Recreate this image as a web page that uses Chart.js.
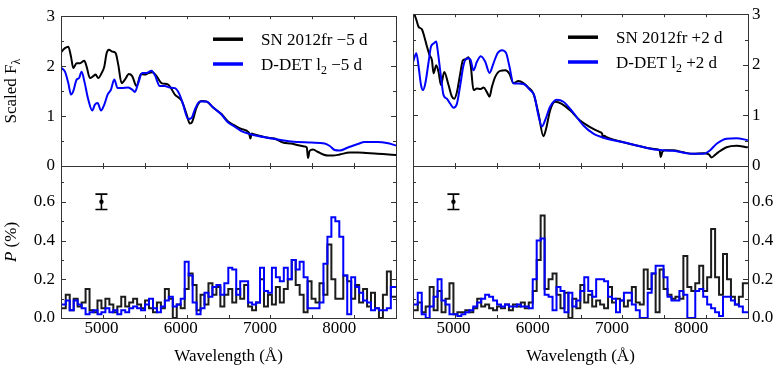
<!DOCTYPE html>
<html><head><meta charset="utf-8">
<script src="https://cdn.jsdelivr.net/npm/chart.js@4"></script>
<style>
html,body{margin:0;padding:0;background:#fff;}
#wrap{position:relative;width:781px;height:372px;overflow:hidden;background:#fff;}
#wrap canvas{position:absolute;left:0;top:0;}
</style></head>
<body><div id="wrap">
<canvas id="cTL" width="781" height="372"></canvas>
<canvas id="cBL" width="781" height="372"></canvas>
<canvas id="cTR" width="781" height="372"></canvas>
<canvas id="cBR" width="781" height="372"></canvas>
</div>
<script>
// ---------- DATA ----------
const seriesLabels = ['SN 2012fr \u22125 d', 'D-DET l\u2082 \u22125 d', 'SN 2012fr +2 d', 'D-DET l\u2082 +2 d'];

// Flux, -5 d (wavelength in Å, scaled flux)
const waveSNm5 = [4490,4498,4540,4582,4616,4645,4687,4729,4784,4813,4855,4897,4926,4960,5002,5036,5065,5095,5137,5179,5212,5254,5296,5346,5388,5443,5498,5548,5590,5640,5695,5758,5842,5926,6010,6073,6115,6144,6199,6262,6325,6409,6514,6598,6660,6765,6860,6879,6895,6933,7081,7185,7290,7395,7500,7563,7590,7605,7625,7668,7731,7815,7857,7920,8004,8130,8234,8340,8444,8550,8717];
const fluxSNm5 = [2.27,2.29,2.36,2.39,2.19,1.96,2.06,2.06,2.11,1.99,1.76,1.80,1.83,1.76,1.86,1.99,2.26,2.33,2.29,2.26,2.03,1.66,1.73,1.84,1.80,1.60,1.84,1.83,1.86,1.88,1.80,1.66,1.63,1.43,1.31,1.04,0.85,0.88,1.17,1.30,1.29,1.17,1.04,0.89,0.83,0.74,0.67,0.55,0.65,0.63,0.57,0.55,0.47,0.45,0.41,0.39,0.37,0.16,0.30,0.33,0.28,0.22,0.21,0.21,0.23,0.27,0.27,0.26,0.25,0.24,0.22];
const waveDDm5 = [4490,4498,4540,4582,4616,4645,4687,4717,4750,4784,4834,4884,4918,4952,4994,5036,5078,5120,5162,5204,5254,5338,5388,5422,5464,5514,5569,5632,5674,5737,5800,5863,5926,5977,6031,6094,6136,6178,6241,6325,6409,6514,6598,6660,6765,6870,6975,7185,7395,7648,7815,7880,7941,8004,8109,8234,8319,8486,8600,8717];
const fluxDDm5 = [1.97,1.96,1.89,1.66,1.43,1.50,1.73,1.76,1.89,1.70,1.33,1.11,1.23,1.26,1.11,1.23,1.43,1.53,1.73,1.56,1.56,1.57,1.53,1.48,1.66,1.86,1.86,1.91,1.82,1.60,1.60,1.57,1.56,1.46,1.23,0.94,0.96,1.13,1.29,1.29,1.17,1.03,0.87,0.81,0.70,0.64,0.60,0.54,0.49,0.47,0.45,0.40,0.32,0.31,0.37,0.44,0.48,0.48,0.46,0.41];

// Flux, +2 d
const waveSNp2 = [4490,4498,4532,4561,4603,4632,4666,4699,4729,4749,4783,4812,4843,4884,4938,4981,5010,5044,5086,5120,5161,5190,5220,5253,5296,5338,5380,5422,5455,5485,5527,5590,5653,5707,5757,5820,5883,5946,6009,6072,6135,6169,6219,6282,6366,6471,6597,6723,6849,6875,6885,6900,6933,7143,7353,7563,7600,7614,7635,7668,7772,7898,8024,8150,8220,8256,8300,8339,8444,8570,8713];
const fluxSNp2 = [3.10,3.05,2.89,2.75,2.70,2.56,2.36,2.19,2.09,1.83,1.99,1.86,1.60,1.86,1.60,1.37,1.33,1.46,1.83,2.09,2.11,2.15,1.96,1.50,1.53,1.52,1.55,1.46,1.37,1.56,1.76,1.88,1.89,1.82,1.64,1.68,1.64,1.55,1.43,1.04,0.59,0.74,1.10,1.27,1.23,1.10,0.90,0.77,0.67,0.64,0.56,0.60,0.57,0.47,0.39,0.33,0.31,0.18,0.28,0.31,0.31,0.27,0.24,0.25,0.23,0.17,0.22,0.27,0.37,0.40,0.37];
const waveDDp2 = [4490,4498,4532,4561,4591,4616,4645,4687,4717,4749,4783,4800,4843,4875,4918,4960,5001,5044,5086,5127,5170,5212,5253,5296,5346,5401,5455,5505,5556,5611,5665,5707,5757,5820,5883,5967,6018,6072,6115,6160,6219,6302,6387,6513,6639,6765,6933,7143,7353,7563,7772,8024,8150,8230,8319,8444,8570,8713];
const fluxDDp2 = [2.05,2.09,2.23,1.96,1.60,1.50,1.63,2.06,2.36,2.42,2.46,2.30,1.76,1.40,1.33,1.23,1.15,1.23,1.60,1.99,2.13,2.11,1.89,2.06,2.17,2.06,1.84,2.03,2.23,2.29,2.23,1.96,1.63,1.63,1.62,1.50,1.40,1.00,0.78,0.92,1.17,1.31,1.27,1.05,0.80,0.64,0.54,0.47,0.39,0.32,0.30,0.24,0.24,0.30,0.44,0.54,0.55,0.51];

// Polarization (%), 50 Å bins starting at 4450 Å
const polBinStart = 4450, polBinWidth = 50;
const polSNm5 = [0.05,0.05,0.12,0.04,0.10,0.06,0.08,0.15,0.04,0.03,0.09,0.05,0.10,0.07,0.03,0.06,0.11,0.06,0.08,0.10,0.07,0.05,0.09,0.05,0.03,0.08,0.05,0.15,0.10,0.00,0.07,0.05,0.15,0.23,0.17,0.04,0.12,0.07,0.18,0.12,0.16,0.06,0.12,0.15,0.08,0.15,0.10,0.17,0.06,0.04,0.08,0.20,0.06,0.12,0.07,0.16,0.08,0.15,0.20,0.30,0.17,0.12,0.03,0.19,0.10,0.08,0.18,0.12,0.38,0.20,0.10,0.10,0.22,0.19,0.10,0.17,0.08,0.15,0.06,0.13,0.05,0.00,0.12,0.24,0.11,0.11];
const polDDm5 = [0.07,0.07,0.09,0.04,0.09,0.07,0.05,0.02,0.03,0.04,0.02,0.03,0.05,0.03,0.04,0.02,0.04,0.03,0.05,0.06,0.05,0.04,0.07,0.10,0.05,0.03,0.06,0.09,0.11,0.06,0.07,0.10,0.29,0.22,0.08,0.02,0.05,0.13,0.11,0.16,0.17,0.12,0.18,0.26,0.25,0.12,0.19,0.19,0.08,0.07,0.08,0.26,0.14,0.13,0.26,0.21,0.19,0.26,0.20,0.30,0.25,0.29,0.21,0.05,0.05,0.05,0.08,0.28,0.42,0.52,0.50,0.42,0.22,0.02,0.21,0.16,0.13,0.09,0.08,0.04,0.05,0.04,0.04,0.05,0.16,0.16];
const polSNp2 = [0.04,0.04,0.08,0.03,0.06,0.16,0.04,0.14,0.03,0.10,0.18,0.02,0.03,0.03,0.04,0.03,0.05,0.10,0.06,0.07,0.05,0.04,0.06,0.05,0.07,0.04,0.07,0.06,0.08,0.05,0.08,0.14,0.30,0.53,0.15,0.20,0.23,0.12,0.05,0.13,0.00,0.10,0.05,0.17,0.08,0.12,0.06,0.09,0.07,0.05,0.16,0.08,0.10,0.09,0.06,0.09,0.16,0.08,0.07,0.25,0.15,0.23,0.03,0.25,0.15,0.12,0.10,0.11,0.10,0.32,0.16,0.14,0.18,0.27,0.14,0.21,0.46,0.21,0.12,0.33,0.20,0.11,0.07,0.11,0.18,0.18];
const polDDp2 = [0.07,0.07,0.13,0.02,0.00,0.06,0.11,0.20,0.09,0.07,0.02,0.02,0.01,0.02,0.03,0.04,0.06,0.08,0.10,0.12,0.11,0.09,0.07,0.06,0.07,0.06,0.06,0.07,0.06,0.06,0.05,0.20,0.40,0.41,0.12,0.11,0.04,0.16,0.14,0.03,0.13,0.06,0.09,0.14,0.21,0.14,0.11,0.20,0.20,0.19,0.11,0.10,0.03,0.09,0.13,0.13,0.07,0.04,0.00,0.00,0.13,0.23,0.27,0.27,0.21,0.11,0.09,0.09,0.14,0.12,0.00,0.00,0.14,0.15,0.11,0.07,0.05,0.03,0.01,0.11,0.11,0.09,0.07,0.06,0.03,0.03];

// Representative error bar (wavelength, P, half-length)
const errX = [5000], errY = [0.6], errHalf = [0.04];

// Axis ranges and tick labels
const xRange = [4490, 8715];
const fluxRange = [0, 3];
const polRange = [0, 0.785];
const xTickLabels = ['5000', '6000', '7000', '8000'];
const fluxTickLabels = ['0', '1', '2', '3'];
const polTickLabels = ['0.0', '0.2', '0.4', '0.6'];

// ---------- HELPERS ----------
const FONT = "'Liberation Serif', 'Times New Roman', serif";
const BLACK = '#000000', BLUE = '#0000ff', PBLACK = '#1c1c1c';

function pts(xs, ys) { return xs.map((x, i) => ({x: x, y: ys[i]})); }
function polPts(vals) { return vals.map((v, i) => ({x: polBinStart + polBinWidth * (i + 0.5), y: v})); }

const decor = {
  id: 'decor',
  afterDatasetsDraw(chart, args, o) {
    const ctx = chart.ctx, a = chart.chartArea, xs = chart.scales.x, ys = chart.scales.y;
    ctx.save();
    // error bar
    if (o.err) {
      const ex = xs.getPixelForValue(errX[0]);
      const y1 = ys.getPixelForValue(errY[0] - errHalf[0]);
      const y2 = ys.getPixelForValue(errY[0] + errHalf[0]);
      const yc = ys.getPixelForValue(errY[0]);
      ctx.strokeStyle = '#000'; ctx.lineWidth = 1.6;
      ctx.beginPath();
      ctx.moveTo(ex, y1); ctx.lineTo(ex, y2);
      ctx.moveTo(ex - 6, y1); ctx.lineTo(ex + 6, y1);
      ctx.moveTo(ex - 6, y2); ctx.lineTo(ex + 6, y2);
      ctx.stroke();
      ctx.fillStyle = '#000';
      ctx.beginPath(); ctx.arc(ex, yc, 2.2, 0, Math.PI * 2); ctx.fill();
    }
    // legend
    if (o.legend) {
      chart.data.datasets.forEach((ds, i) => {
        const ly = a.top + 23 + i * 24.8;
        const lx = a.right - o.legendOffset;
        ctx.strokeStyle = ds.borderColor; ctx.lineWidth = 3.5;
        ctx.beginPath(); ctx.moveTo(lx, ly); ctx.lineTo(lx + 30, ly); ctx.stroke();
        drawRich(ctx, ds.label, lx + 48, ly + 6, 17);
      });
    }
    // x tick labels (bottom panels)
    if (o.xLabels) {
      ctx.fillStyle = '#000'; ctx.font = '17px ' + FONT;
      ctx.textAlign = 'center'; ctx.textBaseline = 'middle';
      xTickLabels.forEach(l => { ctx.fillText(l, xs.getPixelForValue(Number(l)), a.bottom + 11); });
    }
    // inward ticks
    ctx.strokeStyle = '#333'; ctx.lineWidth = 1;
    ctx.beginPath();
    xs.ticks.forEach(t => {
      const px = Math.round(xs.getPixelForValue(t.value)) + 0.5;
      const len = (t.value % 1000 === 0) ? 5 : 3;
      ctx.moveTo(px, a.top); ctx.lineTo(px, a.top + len);
      ctx.moveTo(px, a.bottom); ctx.lineTo(px, a.bottom - len);
    });
    ys.ticks.forEach(t => {
      const py = Math.round(ys.getPixelForValue(t.value)) + 0.5;
      const len = t.label ? 5 : 3;
      ctx.moveTo(a.left, py); ctx.lineTo(a.left + len, py);
      ctx.moveTo(a.right, py); ctx.lineTo(a.right - len, py);
    });
    ctx.stroke();
    // frame
    ctx.strokeRect(Math.round(a.left) + 0.5, Math.round(a.top) + 0.5, Math.round(a.right - a.left), Math.round(a.bottom - a.top));
    // y title
    if (o.yTitle) {
      ctx.translate(o.yTitle.x, (a.top + a.bottom) / 2);
      ctx.rotate(-Math.PI / 2);
      const parts = o.yTitle.parts;
      let w = 0;
      parts.forEach(p => { ctx.font = p.font; w += ctx.measureText(p.text).width; });
      let cx = -w / 2;
      ctx.fillStyle = '#000'; ctx.textBaseline = 'alphabetic'; ctx.textAlign = 'left';
      parts.forEach(p => { ctx.font = p.font; ctx.fillText(p.text, cx, p.dy || 0); cx += ctx.measureText(p.text).width; });
    }
    ctx.restore();
  }
};

function drawRich(ctx, text, x, y, size) {
  ctx.fillStyle = '#000'; ctx.textBaseline = 'alphabetic'; ctx.textAlign = 'left';
  let cx = x;
  for (const ch of text) {
    if (ch === '\u2082') {
      ctx.font = (size * 0.7) + 'px ' + FONT;
      ctx.fillText('2', cx, y + 4);
      cx += ctx.measureText('2').width;
    } else {
      ctx.font = size + 'px ' + FONT;
      ctx.fillText(ch, cx, y);
      cx += ctx.measureText(ch).width;
    }
  }
}

function makePanel(id, cfg) {
  const isTop = cfg.row === 'top';
  const isLeft = cfg.side === 'left';
  const pad = {
    left: isLeft ? 0 : 413,
    right: isLeft ? 385 : 0,
    top: isTop ? 14 : 166,
    bottom: isTop ? 206 : 0
  };
  const yLabels = isTop ? fluxTickLabels : polTickLabels;
  new Chart(document.getElementById(id), {
    type: 'line',
    data: { datasets: cfg.datasets },
    options: {
      responsive: false, animation: false, events: [],
      layout: { padding: pad },
      plugins: { legend: { display: false }, tooltip: { enabled: false }, decor: cfg.decor },
      elements: { point: { radius: 0 } },
      scales: {
        x: {
          type: 'linear', min: xRange[0], max: xRange[1],
          grid: { display: false, drawTicks: false }, border: { display: false },
          ticks: { display: false, stepSize: 500, includeBounds: false, autoSkip: false, maxRotation: 0 },
          title: { display: !isTop, text: 'Wavelength (\u00c5)', color: '#000', font: { family: FONT, size: 17 }, padding: { top: 0, bottom: 5 } },
          afterFit: s => { s.height = isTop ? 0 : 54; }
        },
        y: {
          type: 'linear', position: isLeft ? 'left' : 'right',
          min: isTop ? fluxRange[0] : polRange[0], max: isTop ? fluxRange[1] : polRange[1],
          grid: { display: false, drawTicks: false }, border: { display: false },
          ticks: {
            stepSize: isTop ? 0.5 : 0.1, includeBounds: false, autoSkip: false, padding: isLeft ? 6 : 4,
            color: '#000', font: { family: FONT, size: 17 },
            callback: v => {
              const s = isTop ? String(Math.round(v * 2) / 2) : (Math.round(v * 10) / 10).toFixed(1);
              return yLabels.includes(s) ? s : '';
            }
          },
          afterFit: s => { s.width = isLeft ? 61 : 33; }
        }
      }
    },
    plugins: [decor]
  });
}

function fluxSet(label, xs, ys, color, order) {
  return { label: label, data: pts(xs, ys), borderColor: color, borderWidth: 2, pointRadius: 0, cubicInterpolationMode: 'monotone', order: order };
}
function polSet(label, vals, color, order) {
  return { label: label, data: polPts(vals), borderColor: color, borderWidth: 2, pointRadius: 0, stepped: 'middle', order: order };
}

makePanel('cTL', {
  side: 'left', row: 'top',
  datasets: [fluxSet(seriesLabels[0], waveSNm5, fluxSNm5, BLACK, 2), fluxSet(seriesLabels[1], waveDDm5, fluxDDm5, BLUE, 1)],
  decor: { legend: true, legendOffset: 183, yTitle: { x: 16, parts: [{ text: 'Scaled F', font: '17px ' + FONT }, { text: '\u03bb', font: '12px ' + FONT, dy: 4 }] } }
});
makePanel('cBL', {
  side: 'left', row: 'bottom',
  datasets: [polSet(seriesLabels[0], polSNm5, PBLACK, 2), polSet(seriesLabels[1], polDDm5, BLUE, 1)],
  decor: { err: true, xLabels: true, yTitle: { x: 16, parts: [{ text: 'P', font: 'italic 17px ' + FONT }, { text: ' (%)', font: '17px ' + FONT }] } }
});
makePanel('cTR', {
  side: 'right', row: 'top',
  datasets: [fluxSet(seriesLabels[2], waveSNp2, fluxSNp2, BLACK, 2), fluxSet(seriesLabels[3], waveDDp2, fluxDDp2, BLUE, 1)],
  decor: { legend: true, legendOffset: 180 }
});
makePanel('cBR', {
  side: 'right', row: 'bottom',
  datasets: [polSet(seriesLabels[2], polSNp2, PBLACK, 2), polSet(seriesLabels[3], polDDp2, BLUE, 1)],
  decor: { err: true, xLabels: true }
});
</script>
</body></html>
